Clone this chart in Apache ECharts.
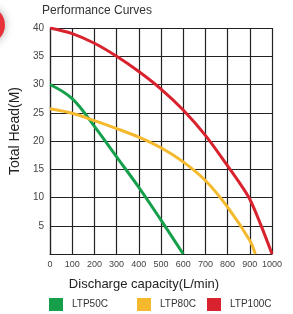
<!DOCTYPE html>
<html>
<head>
<meta charset="utf-8">
<script src="https://cdn.jsdelivr.net/npm/echarts@6/dist/echarts.min.js"></script>
<style>
  html, body { margin: 0; padding: 0; background: #fff; }
  #chart { width: 293px; height: 314px; }
</style>
</head>
<body>
<div id="chart"></div>
<script>
// discharge points (L/min) and head (M)
const flow50 = [0, 100, 200, 300, 400, 500, 600];
const head50 = [30, 27.5, 22.6, 17.2, 11.8, 6, 0];

const flow80 = [0, 100, 200, 300, 400, 500, 600, 700, 800, 900, 925];
const head80 = [25.7, 24.9, 23.6, 22.2, 20.7, 18.8, 16.3, 13, 8.3, 2.4, 0];

const flow100 = [0, 100, 200, 300, 400, 500, 600, 700, 800, 850, 900, 950, 1000];
const head100 = [40, 39, 37.3, 35, 32.3, 29.2, 25.5, 21, 15.6, 12.8, 9.7, 5.1, 0];

const seriesNames = ["LTP50C", "LTP80C", "LTP100C"];
const xTicks = [0, 100, 200, 300, 400, 500, 600, 700, 800, 900, 1000];
const yTicks = [0, 5, 10, 15, 20, 25, 30, 35, 40];

const colors = ["#17a04c", "#f4b92c", "#d8222e"];
const font = "Liberation Sans";

function pairs(xs, ys) {
    return xs.map((x, i) => [x, ys[i]]);
}

// curve label (tag inside the plot)
function tag(name, x, y) {
    return {
        symbol: "none",
        silent: true,
        label: { show: true, formatter: name, color: "#555", fontSize: 8, fontFamily: font },
        data: [{ coord: [x, y], symbolSize: 0 }]
    };
}

// one legend per item so the spacing can follow the picture
function legendItem(name, left) {
    return {
        bottom: -2,
        left: left,
        itemWidth: 14,
        itemHeight: 13,
        icon: "rect",
        data: [name],
        textStyle: { fontSize: 10, color: "#333", fontFamily: font, padding: [0, 0, 0, 4] }
    };
}

const chart = echarts.init(document.getElementById("chart"), null, { renderer: "canvas" });

chart.setOption({
    animation: false,
    backgroundColor: "#fff",
    color: colors,
    title: {
        text: "Performance Curves",
        left: 37,
        top: 0,
        textStyle: { fontSize: 12, fontWeight: "normal", color: "#333", fontFamily: font }
    },
    graphic: [{
        type: "circle",
        shape: { cx: -14, cy: 25, r: 19 },
        style: { fill: "#e8323a", shadowBlur: 8, shadowColor: "rgba(120,120,120,0.6)" },
        silent: true
    }],
    legend: [
        legendItem(seriesNames[0], 44),
        legendItem(seriesNames[1], 132),
        legendItem(seriesNames[2], 202)
    ],
    grid: { left: 43, right: 21, top: 28, bottom: 60, containLabel: false },
    xAxis: {
        type: "value",
        min: xTicks[0],
        max: xTicks[xTicks.length - 1],
        interval: 100,
        name: "Discharge capacity(L/min)",
        nameLocation: "middle",
        nameGap: 24,
        nameTextStyle: { fontSize: 13, color: "#222", fontFamily: font, padding: [0, 34, 0, 0] },
        axisLine: { lineStyle: { color: "#222", width: 1.2 } },
        axisTick: { show: false },
        axisLabel: { fontSize: 9, color: "#444", margin: 6, fontFamily: font, formatter: v => String(v) },
        splitLine: { show: true, lineStyle: { color: "#222", width: 1.2 } }
    },
    yAxis: {
        type: "value",
        min: yTicks[0],
        max: yTicks[yTicks.length - 1],
        interval: 5,
        name: "Total Head(M)",
        nameLocation: "middle",
        nameGap: 21,
        nameRotate: 90,
        nameTextStyle: { fontSize: 14, color: "#222", fontFamily: font, padding: [0, 0, 0, 20] },
        axisLine: { show: true, lineStyle: { color: "#222", width: 1.2 } },
        axisTick: { show: false },
        axisLabel: {
            fontSize: 10, color: "#444", margin: 6, fontFamily: font,
            formatter: v => (v === 0 ? "" : String(v))
        },
        splitLine: { show: true, lineStyle: { color: "#222", width: 1.2 } }
    },
    series: [
        {
            name: seriesNames[0], type: "line", smooth: 0.35, symbol: "none",
            lineStyle: { width: 3 }, data: pairs(flow50, head50),
            markPoint: tag("LTP50C", 335, 12.5)
        },
        {
            name: seriesNames[1], type: "line", smooth: 0.35, symbol: "none",
            lineStyle: { width: 3 }, data: pairs(flow80, head80),
            markPoint: tag("LTP80C", 645, 18)
        },
        {
            name: seriesNames[2], type: "line", smooth: 0.35, symbol: "none",
            lineStyle: { width: 3 }, data: pairs(flow100, head100),
            markPoint: tag("LTP100C", 719, 26.1)
        }
    ]
});
</script>
</body>
</html>
